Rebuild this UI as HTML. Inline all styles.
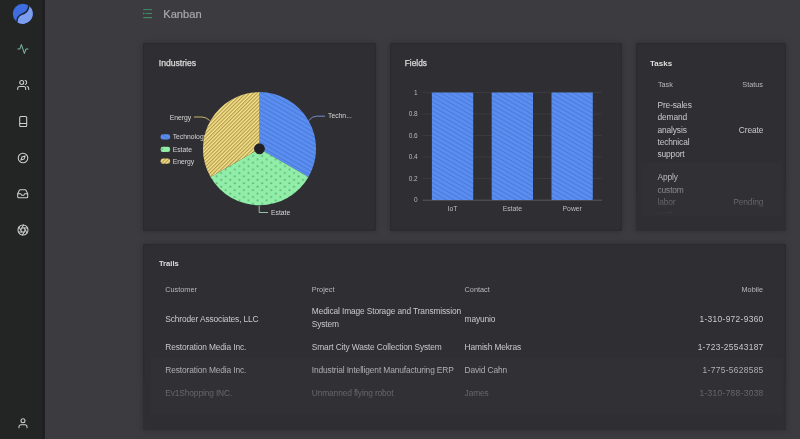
<!DOCTYPE html>
<html><head><meta charset="utf-8">
<style>
*{margin:0;padding:0;box-sizing:border-box}
html,body{width:800px;height:439px;overflow:hidden;background:#3c3b40;font-family:"Liberation Sans",sans-serif;position:relative}
.t{position:absolute;white-space:nowrap;line-height:1}
.sb{position:absolute;left:0;top:0;width:41.5px;height:439px;background:#232524}
.sbb{position:absolute;left:41.5px;top:0;width:3px;height:439px;background:#1f1f21}
.p{position:absolute;background:#2f2e33;border-radius:2px;box-shadow:0 0 6px rgba(0,0,0,0.22),inset 0 0 2px rgba(0,0,0,0.3)}
.ttl{color:#dedede;font-size:8.3px;-webkit-text-stroke:0.25px #dedede}
.hd{color:#b8b8bc;font-size:7.3px}
.bd{color:#cacacd;font-size:8.4px;letter-spacing:-0.13px}
.ph{letter-spacing:0.32px}
.r{text-align:right}
svg{position:absolute;left:0;top:0}
</style></head><body><div id="w" style="position:absolute;left:0;top:0;width:800px;height:439px;filter:blur(0.3px)">
<div class="sb"></div><div class="sbb"></div>

<svg width="45" height="439" viewBox="0 0 45 439">
  <!-- logo -->
  <circle cx="22.8" cy="13.8" r="10" fill="#3e6de0"/>
  <path d="M28.85 5.84 A10 10 0 0 1 16.9 21.9 C17 17.5 18.6 15.5 21.7 14.4 C25 13.3 28.6 11 28.85 5.84Z" fill="#7b9ef1"/>
  <path d="M28.85 5.6 C28.6 11 25 13.3 21.7 14.4 C18.6 15.5 17 17.5 16.9 22" fill="none" stroke="#1d2233" stroke-width="1.4"/>
  <!-- pulse -->
  <g fill="none" stroke-linecap="round" stroke-linejoin="round" stroke-width="2.1">
  <g transform="translate(16.9,43) scale(0.5)" stroke="#8ccdb3" stroke-width="1.8"><polyline points="22 12 18 12 15 21 9 3 6 12 2 12"/></g>
  <g stroke="#cfcfcf">
    <g transform="translate(17.2,79) scale(0.5)"><path d="M17 21v-2a4 4 0 0 0-4-4H5a4 4 0 0 0-4 4v2"/><circle cx="9" cy="7" r="4"/><path d="M23 21v-2a4 4 0 0 0-3-3.87"/><path d="M16 3.13a4 4 0 0 1 0 7.75"/></g>
    <g transform="translate(17,152) scale(0.5)"><circle cx="12" cy="12" r="9.6"/><polygon points="16.24 7.76 14.12 14.12 7.76 16.24 9.88 9.88 16.24 7.76"/></g>
    <g transform="translate(16.7,187.8) scale(0.5)"><polyline points="22 12 16 12 14 15 10 15 8 12 2 12"/><path d="M5.45 5.11L2 12v6a2 2 0 0 0 2 2h16a2 2 0 0 0 2-2v-6l-3.45-6.89A2 2 0 0 0 16.76 4H7.24a2 2 0 0 0-1.79 1.11z"/></g>
    <g transform="translate(17,224) scale(0.5)"><circle cx="12" cy="12" r="10"/><line x1="14.31" y1="8" x2="20.05" y2="17.94"/><line x1="9.69" y1="8" x2="21.17" y2="8"/><line x1="7.38" y1="12" x2="13.12" y2="2.06"/><line x1="9.69" y1="16" x2="3.95" y2="6.06"/><line x1="14.31" y1="16" x2="2.83" y2="16"/><line x1="16.62" y1="12" x2="10.88" y2="21.94"/></g>
    <g transform="translate(17,417.3) scale(0.5)"><path d="M20 21v-2a4 4 0 0 0-4-4H8a4 4 0 0 0-4 4v2"/><circle cx="12" cy="7" r="4"/></g>
  </g>
  </g>
  <g fill="none" stroke="#cfcfcf" stroke-width="1.05" stroke-linecap="round" stroke-linejoin="round">
    <rect x="19.7" y="116.5" width="7" height="10" rx="1"/>
    <line x1="20" y1="123.4" x2="26.4" y2="123.4"/>
  </g>
</svg>

<!-- header -->
<svg width="800" height="40" viewBox="0 0 800 40">
  <g stroke="#438a62">
    <line x1="143.3" y1="9.6" x2="152" y2="9.6" stroke-width="1"/>
    <line x1="145.6" y1="13.5" x2="152" y2="13.5" stroke-width="1.1"/>
    <line x1="143.3" y1="17.6" x2="152" y2="17.6" stroke-width="1.2"/>
  </g>
  <rect x="143" y="12.7" width="1.5" height="1.6" fill="#438a62"/>
</svg>
<div class="t" style="left:163.3px;top:9.4px;font-size:11.1px;color:#a9a9ad;-webkit-text-stroke:0.2px #a9a9ad">Kanban</div>

<!-- panels -->
<div class="p" style="left:143px;top:42.5px;width:232.5px;height:188.3px"></div>
<div class="p" style="left:389.5px;top:42.5px;width:232px;height:188.3px"></div>
<div class="p" style="left:636px;top:42.5px;width:150px;height:188.3px"></div>
<div class="p" style="left:143px;top:244px;width:642.5px;height:186px"></div>

<div class="t ttl" style="left:158.8px;top:58.8px;font-size:8.6px">Industries</div>
<div class="t ttl" style="left:404.8px;top:59px">Fields</div>
<div class="t ttl" style="left:650px;top:59.9px;font-size:8px;font-weight:bold;-webkit-text-stroke:0">Tasks</div>
<div class="t ttl" style="left:158.9px;top:259.8px;font-size:7.6px;font-weight:bold;-webkit-text-stroke:0">Trails</div>

<!-- Pie chart -->
<svg width="800" height="439" viewBox="0 0 800 439">
  <defs>
    <pattern id="pb" width="3.9" height="3.9" patternUnits="userSpaceOnUse" patternTransform="rotate(30)">
      <rect width="3.9" height="3.9" fill="#5b8ef2"/>
      <rect y="0" width="3.9" height="1.15" fill="#4c7bd8"/>
    </pattern>
    <pattern id="pbar" width="3.9" height="3.9" patternUnits="userSpaceOnUse" patternTransform="rotate(30)">
      <rect width="3.9" height="3.9" fill="#5b8ef2"/>
      <rect y="0" width="3.9" height="1.15" fill="#4c7bd8"/>
    </pattern>
    <pattern id="py" width="2.6" height="2.6" patternUnits="userSpaceOnUse" patternTransform="rotate(-45)">
      <rect width="2.6" height="2.6" fill="#f5e392"/>
      <rect y="0" width="2.6" height="1.15" fill="#b49a45"/>
    </pattern>
    <pattern id="pg" width="9.1" height="6.84" patternUnits="userSpaceOnUse" x="0.5" y="0.3">
      <rect width="9.1" height="6.84" fill="#91eea9"/>
      <circle cx="2.275" cy="1.71" r="1.05" fill="#5fb377"/>
      <circle cx="6.825" cy="5.13" r="1.05" fill="#5fb377"/>
    </pattern>
  </defs>
  <!-- legend -->
  <rect x="160.6" y="134.2" width="9.5" height="5.2" rx="2.2" fill="url(#pb)"/>
  <rect x="160.6" y="146.8" width="9.5" height="5.2" rx="2.2" fill="url(#pg)"/>
  <rect x="160.6" y="158.6" width="9.5" height="5.2" rx="2.2" fill="url(#py)"/>
  <g font-family="Liberation Sans" font-size="6.8" fill="#d6d6d6">
    <text x="172.7" y="139.2">Technology</text>
    <text x="172.7" y="152">Estate</text>
    <text x="172.7" y="163.6">Energy</text>
  </g>
  <!-- slices -->
  <path d="M259.5 92.1 A56.6 56.6 0 0 1 308.5 177 L264.2 151.4 A5.4 5.4 0 0 0 259.5 143.3Z" fill="url(#pb)"/>
  <path d="M308.5 177 A56.6 56.6 0 0 1 210.5 177 L254.8 151.4 A5.4 5.4 0 0 0 264.2 151.4Z" fill="url(#pg)"/>
  <path d="M210.5 177 A56.6 56.6 0 0 1 259.5 92.1 L259.5 143.3 A5.4 5.4 0 0 0 254.8 151.4Z" fill="url(#py)"/>
  <circle cx="259.5" cy="148.7" r="4.8" fill="#222126"/>
  <!-- leaders -->
  <path d="M308.7 120.6 Q312 116.2 316.5 116.2 H325" fill="none" stroke="#86a6f2" stroke-width="0.8"/>
  <path d="M259.2 205.9 V212.5 H268" fill="none" stroke="#b0e6bf" stroke-width="0.8"/>
  <path d="M209.7 120.5 Q206 117 202 117 H194" fill="none" stroke="#ecd478" stroke-width="0.8"/>
  <g font-family="Liberation Sans" font-size="6.8" fill="#d6d6d6">
    <text x="328" y="118.3">Techn...</text>
    <text x="271" y="214.9">Estate</text>
    <text x="191.2" y="119.7" text-anchor="end">Energy</text>
  </g>

  <!-- Bar chart -->
  <g stroke="#424147" stroke-width="0.6">
    <line x1="422.6" y1="92.5" x2="602" y2="92.5"/>
    <line x1="422.6" y1="114" x2="602" y2="114"/>
    <line x1="422.6" y1="135.5" x2="602" y2="135.5"/>
    <line x1="422.6" y1="157" x2="602" y2="157"/>
    <line x1="422.6" y1="178.5" x2="602" y2="178.5"/>
  </g>
  <line x1="422.6" y1="200.2" x2="602" y2="200.2" stroke="#6a6a70" stroke-width="0.7"/>
  <rect x="431.9" y="92.5" width="41.3" height="107.5" rx="0.8" fill="url(#pbar)"/>
  <rect x="491.7" y="92.5" width="41.3" height="107.5" rx="0.8" fill="url(#pbar)"/>
  <rect x="551.5" y="92.5" width="41.3" height="107.5" rx="0.8" fill="url(#pbar)"/>
  <g font-family="Liberation Sans" font-size="6.5" fill="#b8b8bc" text-anchor="end">
    <text x="417.7" y="94.9">1</text>
    <text x="417.7" y="116.4">0.8</text>
    <text x="417.7" y="137.9">0.6</text>
    <text x="417.7" y="159.4">0.4</text>
    <text x="417.7" y="180.9">0.2</text>
    <text x="417.7" y="202.4">0</text>
  </g>
  <g font-family="Liberation Sans" font-size="6.8" fill="#bcbcc0" text-anchor="middle">
    <text x="452.5" y="211">IoT</text>
    <text x="512.3" y="211">Estate</text>
    <text x="572.2" y="211">Power</text>
  </g>
</svg>

<!-- Tasks -->
<div class="t hd" style="left:657.9px;top:81.4px">Task</div>
<div class="t hd r" style="left:700px;width:63px;top:81.4px">Status</div>
<div class="t bd" style="left:657.5px;top:98.7px;line-height:12.44px;white-space:normal;width:60px">Pre-sales<br>demand<br>analysis<br>technical<br>support</div>
<div class="t bd r" style="left:700px;width:63.2px;top:125.8px">Create</div>
<div class="t bd" style="left:657.5px;top:171.1px;line-height:12.44px;white-space:normal;width:60px">Apply<br>custom<br>labor<br>cost</div>
<div class="t bd r" style="left:700px;width:63.2px;top:198px">Pending</div>
<div style="position:absolute;left:636px;top:168px;width:150px;height:62.8px;background:linear-gradient(to bottom,rgba(47,46,51,0) 0px,rgba(47,46,51,0.1) 9px,rgba(47,46,51,0.42) 22px,rgba(47,46,51,0.68) 34px,rgba(47,46,51,1) 47px,#2f2e33 100%)"></div>

<!-- Trails -->
<div class="t hd" style="left:165.3px;top:285.6px">Customer</div>
<div class="t hd" style="left:311.8px;top:285.6px">Project</div>
<div class="t hd" style="left:464.6px;top:285.6px">Contact</div>
<div class="t hd r" style="left:700px;width:63px;top:285.6px">Mobile</div>

<div class="t bd" style="left:165.3px;top:314.5px">Schroder Associates, LLC</div>
<div class="t bd" style="left:311.8px;top:305.3px;line-height:12.4px">Medical Image Storage and Transmission<br>System</div>
<div class="t bd" style="left:464.6px;top:314.5px">mayunio</div>
<div class="t bd r ph" style="left:640px;width:123.6px;top:314.5px">1-310-972-9360</div>

<div class="t bd" style="left:165.3px;top:342.9px">Restoration Media Inc.</div>
<div class="t bd" style="left:311.8px;top:342.9px">Smart City Waste Collection System</div>
<div class="t bd" style="left:464.6px;top:342.9px">Hamish Mekras</div>
<div class="t bd r ph" style="left:640px;width:123.6px;top:342.9px">1-723-25543187</div>

<div class="t bd" style="left:165.3px;top:365.7px">Restoration Media Inc.</div>
<div class="t bd" style="left:311.8px;top:365.7px">Industrial Intelligent Manufacturing ERP</div>
<div class="t bd" style="left:464.6px;top:365.7px">David Cahn</div>
<div class="t bd r ph" style="left:640px;width:123.6px;top:365.7px">1-775-5628585</div>

<div class="t bd" style="left:165.3px;top:388.5px">Ev1Shopping INC.</div>
<div class="t bd" style="left:311.8px;top:388.5px">Unmanned flying robot</div>
<div class="t bd" style="left:464.6px;top:388.5px">James</div>
<div class="t bd r ph" style="left:640px;width:123.6px;top:388.5px">1-310-788-3038</div>
<div style="position:absolute;left:143px;top:345px;width:642.5px;height:85px;background:linear-gradient(to bottom,rgba(47,46,51,0) 0px,rgba(47,46,51,0.18) 25px,rgba(47,46,51,0.65) 47px,rgba(47,46,51,1) 70px)"></div>

<div style="position:absolute;left:640.5px;top:162.7px;width:141.5px;height:53px;background:rgba(255,255,255,0.01)"></div>
<div style="position:absolute;left:151.4px;top:357.8px;width:630.6px;height:57.7px;background:rgba(255,255,255,0.01)"></div>
</div></body></html>
